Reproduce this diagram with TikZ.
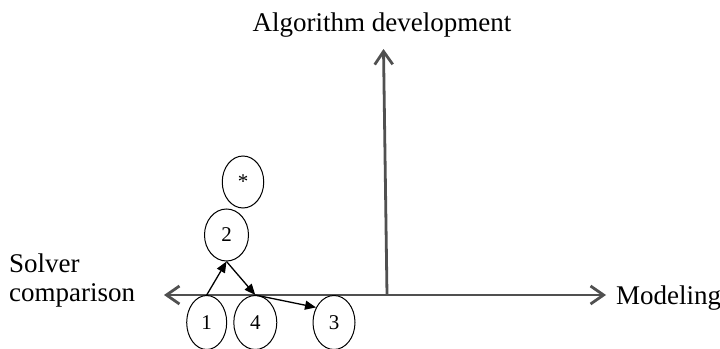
\documentclass[tikz,border=0pt]{standalone}
\usepackage{fontspec}
\setmainfont{Liberation Serif}
\usetikzlibrary{arrows.meta,shapes.geometric}
\definecolor{axisgray}{RGB}{80,80,80}
\tikzset{
  axis/.style={draw=axisgray,line width=2.8pt,arrows={-Straight Barb[length=13pt,width=18pt,line width=2.8pt]}},
  axislabel/.style={font=\fontsize{27}{29}\selectfont,inner sep=0pt},
  stage/.style={ellipse,draw=black,line width=1pt,inner sep=0pt,font=\fontsize{21}{22}\selectfont},
  flow/.style={draw=black,line width=1.3pt,-{Triangle[length=11pt,width=9pt]}}
}
\begin{document}
\begin{tikzpicture}[x=1pt,y=-1pt]
\useasboundingbox (0,0) rectangle (720,348);
\clip (0,0) rectangle (720,348);
\fill[white] (0,0) rectangle (720,348);
% axes
\coordinate (O) at (387,295);
\coordinate (L) at (164,295);
\coordinate (R) at (606,295);
\coordinate (T) at (383.5,49);
\draw[axis] (O) -- (L);
\draw[axis] (O) -- (R);
\draw[axis] (O) -- (T);
% labels
\node[axislabel,anchor=base] (alg) at (382,31.7) {Algorithm development};
\node[axislabel,anchor=base west] (mod) at (616,304) {Modeling};
\node[axislabel,anchor=base west,align=left] (sol) at (9,301.7) {Solver\\comparison};
% stages
\node[stage,minimum width=41.5pt,minimum height=52pt] (ns) at (243,182) {*};
\node[stage,minimum width=44pt,minimum height=52pt] (n2) at (226.5,235) {2};
\node[stage,minimum width=40pt,minimum height=54pt] (n1) at (206.7,322.5) {1};
\node[stage,minimum width=43pt,minimum height=54pt] (n4) at (255.3,322.5) {4};
\node[stage,minimum width=42pt,minimum height=54pt] (n3) at (334,322.5) {3};
% flows
\draw[flow] (n1.north) -- (n2.south);
\draw[flow] (n2.south) -- (n4.north);
\draw[flow] (n4.north) -- (n3.140);
\end{tikzpicture}
\end{document}
